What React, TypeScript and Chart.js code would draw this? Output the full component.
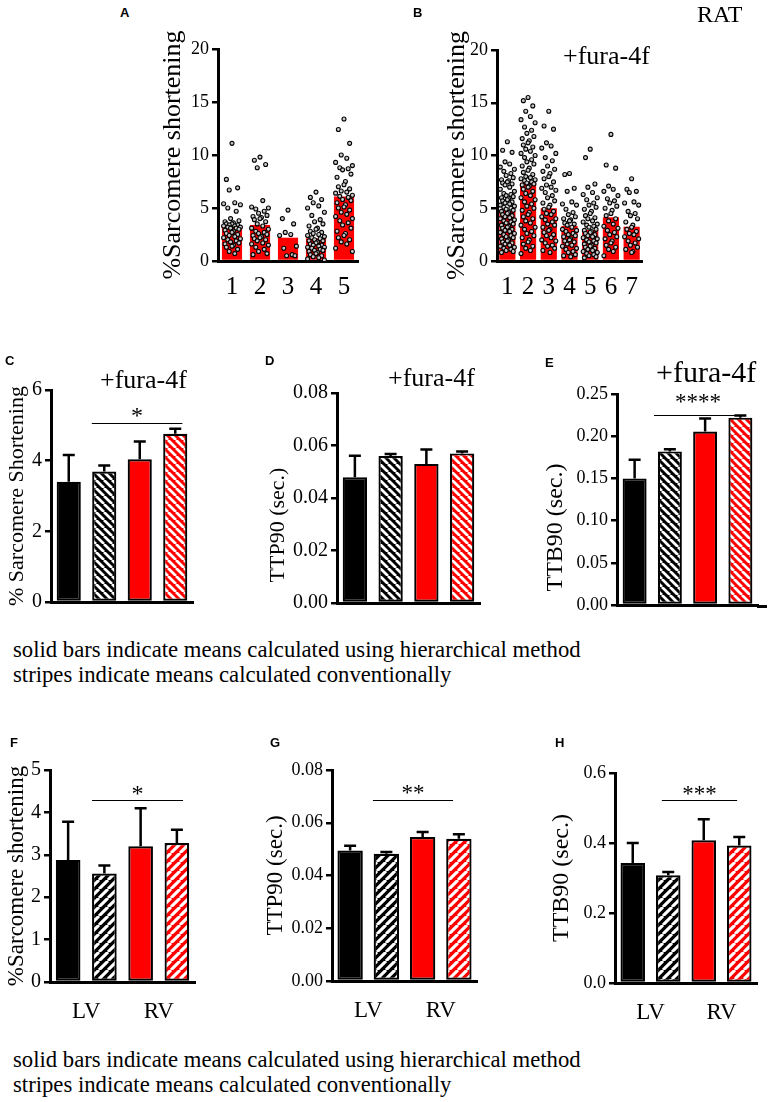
import React, { useEffect, useRef } from "react";
import { Chart, registerables } from "chart.js";
Chart.register(...registerables);

const SERIF = "'Liberation Serif', 'Times New Roman', Times, serif";
const SANS = "'Liberation Sans', Arial, Helvetica, sans-serif";
const RED = "#ff0000";

// ---------------- Panel A ----------------
const aLabels = ["1", "2", "3", "4", "5"];
const aMeans = [3.3, 3.4, 2.2, 2.14, 6.08];
const aCell1 = [11.1, 7.7, 6.9, 6.7, 5.5, 5.4, 5.3, 5.0, 4.7, 4.0, 3.8, 3.7, 3.6, 3.5, 3.5, 3.4, 3.4, 3.3, 3.3, 3.2, 3.2, 3.1, 3.1, 3.0, 2.9, 2.8, 2.7, 2.6, 2.5, 2.4, 2.3, 2.2, 2.1, 2.0, 1.9, 1.8, 1.7, 1.6, 1.5, 1.4, 1.3, 1.1, 0.9, 0.7];
const aCell2 = [9.8, 9.5, 9.1, 8.8, 5.7, 5.1, 5.0, 4.9, 4.7, 4.5, 4.3, 4.2, 4.1, 4.0, 3.9, 3.7, 3.5, 3.3, 3.1, 3.0, 2.8, 2.7, 2.6, 2.5, 2.4, 2.3, 2.2, 2.1, 2.0, 1.9, 1.7, 1.6, 1.5, 1.3, 1.1, 0.9, 0.7, 0.6];
const aCell3 = [4.8, 4.0, 3.5, 2.7, 2.5, 2.4, 1.4, 1.2, 0.6, 0.5, 0.5];
const aCell4 = [6.5, 6.0, 5.8, 5.5, 5.2, 5.0, 4.6, 4.3, 3.9, 3.7, 3.5, 3.3, 3.1, 3.0, 2.8, 2.7, 2.6, 2.5, 2.4, 2.3, 2.2, 2.1, 2.0, 1.9, 1.9, 1.8, 1.7, 1.6, 1.5, 1.5, 1.4, 1.3, 1.3, 1.2, 1.1, 1.0, 1.0, 0.9, 0.8, 0.7, 0.6, 0.5, 0.4, 0.3, 0.2, 0.1];
const aCell5 = [13.4, 12.4, 11.1, 10.0, 9.7, 9.3, 9.0, 8.8, 8.7, 8.6, 8.2, 7.9, 7.5, 7.2, 7.0, 6.8, 6.6, 6.5, 6.4, 6.2, 6.1, 6.0, 5.8, 5.7, 5.5, 5.3, 5.1, 5.0, 4.8, 4.6, 4.4, 4.2, 4.0, 3.8, 3.6, 3.4, 3.1, 2.8, 2.6, 2.4, 2.2, 2.0, 1.8, 1.6, 1.2, 0.9];

// ---------------- Panel B ----------------
const bLabels = ["1", "2", "3", "4", "5", "6", "7"];
const bMeans = [4.77, 7.42, 4.99, 3.32, 2.94, 4.14, 3.25];
const bCell1 = [11.3, 10.5, 10.3, 9.4, 9.2, 8.9, 8.7, 8.5, 8.3, 8.1, 7.9, 7.7, 7.6, 7.5, 7.4, 7.3, 7.2, 7.0, 6.8, 6.6, 6.4, 6.3, 6.2, 6.1, 6.0, 5.9, 5.8, 5.7, 5.6, 5.5, 5.4, 5.3, 5.2, 5.1, 5.0, 4.9, 4.8, 4.7, 4.6, 4.5, 4.4, 4.3, 4.2, 4.1, 4.0, 3.9, 3.8, 3.7, 3.6, 3.5, 3.4, 3.3, 3.2, 3.1, 3.0, 2.9, 2.8, 2.7, 2.6, 2.5, 2.4, 2.3, 2.2, 2.1, 2.0, 1.9, 1.8, 1.7, 1.6, 1.5, 1.4, 1.3, 1.2, 1.1, 1.0, 0.9, 0.8];
const bCell2 = [15.5, 15.2, 14.7, 14.2, 13.7, 13.4, 13.1, 12.7, 12.4, 12.1, 11.8, 11.6, 11.4, 11.2, 11.0, 10.8, 10.6, 10.4, 10.2, 10.0, 9.8, 9.6, 9.4, 9.2, 9.0, 8.8, 8.6, 8.4, 8.2, 8.0, 7.9, 7.8, 7.7, 7.6, 7.5, 7.4, 7.3, 7.2, 7.1, 7.0, 6.8, 6.6, 6.4, 6.2, 6.0, 5.8, 5.6, 5.4, 5.2, 5.0, 4.8, 4.6, 4.4, 4.2, 4.0, 3.8, 3.6, 3.4, 3.2, 3.0, 2.8, 2.6, 2.4, 2.2, 2.0, 1.8, 1.6, 1.4, 1.2, 1.0, 0.7];
const bCell3 = [14.2, 12.8, 12.5, 11.2, 10.9, 10.7, 10.2, 9.8, 9.5, 9.0, 8.7, 8.5, 8.3, 8.0, 7.8, 7.5, 7.2, 7.0, 6.9, 6.7, 6.5, 6.2, 6.0, 5.7, 5.5, 5.3, 5.1, 4.9, 4.7, 4.5, 4.4, 4.2, 4.0, 3.9, 3.7, 3.5, 3.4, 3.2, 3.0, 2.9, 2.7, 2.5, 2.4, 2.2, 2.0, 1.9, 1.7, 1.5, 1.4, 1.2, 1.0, 0.8];
const bCell4 = [8.3, 8.2, 6.9, 6.6, 5.6, 5.4, 5.3, 4.9, 4.6, 4.4, 4.2, 4.0, 3.9, 3.8, 3.6, 3.5, 3.4, 3.2, 3.0, 2.9, 2.8, 2.6, 2.5, 2.4, 2.3, 2.1, 2.0, 1.9, 1.8, 1.6, 1.5, 1.4, 1.2, 1.1, 0.9, 0.8, 0.6, 0.5, 0.4];
const bCell5 = [10.6, 9.8, 7.3, 7.0, 6.5, 6.3, 6.0, 5.8, 5.5, 5.3, 5.1, 4.9, 4.7, 4.5, 4.3, 4.1, 4.0, 3.8, 3.7, 3.5, 3.4, 3.3, 3.2, 3.0, 2.9, 2.8, 2.7, 2.6, 2.5, 2.4, 2.3, 2.2, 2.1, 2.0, 1.9, 1.8, 1.7, 1.6, 1.5, 1.4, 1.3, 1.2, 1.1, 1.0, 0.9, 0.8, 0.7, 0.6, 0.5, 0.4, 0.3];
const bCell6 = [12.0, 9.1, 8.8, 7.1, 6.8, 6.6, 6.2, 5.9, 5.7, 5.5, 5.2, 5.0, 4.8, 4.5, 4.3, 4.0, 3.8, 3.5, 3.3, 3.1, 2.9, 2.7, 2.5, 2.3, 2.1, 1.9, 1.7, 1.5, 1.3, 1.1, 0.9, 0.5];
const bCell7 = [7.8, 6.8, 6.6, 6.5, 5.6, 5.5, 5.3, 4.7, 4.5, 4.3, 4.0, 3.7, 3.4, 3.2, 3.0, 2.8, 2.6, 2.5, 2.3, 2.1, 1.9, 1.7, 1.5, 1.3, 1.1, 0.9, 0.8];

// ---------------- Panels C-H (hierarchical / conventional, LV / RV) ----------------
const groupLabels = ["LV hierarchical", "LV conventional", "RV hierarchical", "RV conventional"];
const cMeans = [3.40, 3.69, 4.04, 4.76];
const cErrTop = [4.16, 3.86, 4.54, 4.90];
const dMeans = [0.0479, 0.0560, 0.0530, 0.0570];
const dErrTop = [0.0561, 0.0568, 0.0585, 0.0577];
const eMeans = [0.150, 0.182, 0.2055, 0.222];
const eErrTop = [0.172, 0.1846, 0.221, 0.2245];
const fMeans = [2.88, 2.56, 3.20, 3.28];
const fErrTop = [3.78, 2.75, 4.10, 3.59];
const gMeans = [0.0495, 0.0482, 0.0546, 0.0539];
const gErrTop = [0.0513, 0.0489, 0.0565, 0.0556];
const hMeans = [0.343, 0.3076, 0.4076, 0.393];
const hErrTop = [0.400, 0.317, 0.468, 0.417];
const ventricleLabels = ["LV", "RV"];

const desc1 = "solid bars indicate means calculated using hierarchical method";
const desc2 = "stripes indicate means calculated conventionally";

const JITTER = [0, -0.67, 0.67, -0.33, 0.33, -1, 1, -0.5, 0.5, -0.17, 0.83, -0.83, 0.17];

function swarm(groups: number[][], spread: number) {
  const pts: { x: number; y: number }[] = [];
  groups.forEach((vals, g) =>
    vals.forEach((v, i) => pts.push({ x: g + JITTER[i % JITTER.length] * spread, y: v }))
  );
  return pts;
}

function stripes(ctx: CanvasRenderingContext2D, bg: string, dir: string, tile: number) {
  const c = document.createElement("canvas");
  c.width = tile;
  c.height = tile;
  const g = c.getContext("2d")!;
  g.fillStyle = bg;
  g.fillRect(0, 0, tile, tile);
  g.strokeStyle = "#fff";
  g.lineWidth = tile * 0.34;
  g.beginPath();
  for (let k = -1; k <= 1; k++) {
    if (dir === "\\") {
      g.moveTo(k * tile, 0);
      g.lineTo(k * tile + tile, tile);
    } else {
      g.moveTo(k * tile, tile);
      g.lineTo(k * tile + tile, 0);
    }
  }
  g.stroke();
  return ctx.createPattern(c, "repeat");
}

const decor = {
  id: "decor",
  afterDatasetsDraw(chart: any, _a: any, o: any) {
    const { ctx, chartArea } = chart;
    const xs = chart.scales.x;
    const ys = chart.scales.y;
    ctx.save();
    if (o.errors && o.means) {
      ctx.strokeStyle = "#000";
      ctx.lineWidth = 2.5;
      for (let i = 0; i < o.errors.length; i++) {
        const x = xs.getPixelForValue(i);
        const yb = ys.getPixelForValue(o.means[i]);
        const yt = ys.getPixelForValue(o.errors[i]);
        ctx.beginPath();
        ctx.moveTo(x, yb);
        ctx.lineTo(x, yt);
        ctx.moveTo(x - o.cap, yt);
        ctx.lineTo(x + o.cap, yt);
        ctx.stroke();
      }
    }
    if (o.sig) {
      const x1 = xs.getPixelForValue(o.sig.from);
      const x2 = xs.getPixelForValue(o.sig.to);
      const yy = Math.round(ys.getPixelForValue(o.sig.y)) + 0.5;
      ctx.strokeStyle = "#000";
      ctx.lineWidth = 1;
      ctx.beginPath();
      ctx.moveTo(x1, yy);
      ctx.lineTo(x2, yy);
      ctx.stroke();
      ctx.fillStyle = "#000";
      ctx.font = `${o.sig.size}px ${SERIF}`;
      ctx.textAlign = "center";
      ctx.textBaseline = "alphabetic";
      ctx.fillText(o.sig.stars, (x1 + x2) / 2, yy - o.sig.dy + 0.47 * o.sig.size);
    }
    if (o.groups) {
      ctx.fillStyle = "#000";
      ctx.font = `${o.groupSize}px ${SERIF}`;
      ctx.textAlign = "center";
      ctx.textBaseline = "alphabetic";
      o.groups.forEach((label: string, gi: number) => {
        const xa = xs.getPixelForValue(gi * 2);
        const xb = xs.getPixelForValue(gi * 2 + 1);
        ctx.fillText(label, (xa + xb) / 2, chartArea.bottom + o.groupDy);
      });
    }
    if (o.xExtend) {
      ctx.strokeStyle = "#000";
      ctx.lineWidth = 3;
      ctx.beginPath();
      ctx.moveTo(chartArea.right - 1, chartArea.bottom + 1.5);
      ctx.lineTo(chartArea.right + o.xExtend, chartArea.bottom + 1.5);
      ctx.stroke();
    }
    if (o.yTitle) {
      ctx.fillStyle = "#000";
      ctx.font = `${o.yTitle.size}px ${SERIF}`;
      ctx.textAlign = "center";
      ctx.textBaseline = "middle";
      ctx.translate(o.yTitle.x, (chartArea.top + chartArea.bottom) / 2 + (o.yTitle.dy || 0));
      ctx.rotate(-Math.PI / 2);
      ctx.fillText(o.yTitle.text, 0, 0);
    }
    ctx.restore();
  },
};

function scales(o: any) {
  const s: any = {
    x: {
      offset: true,
      grid: { display: false },
      border: { display: true, color: "#000", width: 3 },
      ticks: o.xTicks
        ? { display: true, color: "#000", font: { family: SERIF, size: 25 }, padding: 3, maxRotation: 0, autoSkip: false }
        : { display: false },
      afterFit: (sc: any) => {
        sc.height = o.xH;
      },
    },
    y: {
      min: o.min,
      max: o.max,
      ticks: {
        stepSize: o.step,
        color: "#000",
        font: { family: SERIF, size: o.tickSize || 18 },
        padding: 3,
        callback: (v: number) => (o.dec ? Number(v).toFixed(o.dec) : String(Math.round(v))),
      },
      grid: {
        display: true,
        drawOnChartArea: false,
        drawTicks: true,
        tickLength: 6,
        tickWidth: 2.5,
        tickColor: "#000",
        color: "#000",
        lineWidth: 2.5,
      },
      border: { display: true, color: "#000", width: 3 },
      afterFit: (sc: any) => {
        sc.width = o.yW;
      },
    },
  };
  if (o.n) {
    s.xs = { type: "linear", display: false, min: -0.5, max: o.n - 0.5, offset: false };
  }
  return s;
}

function scatterConfig(p: any) {
  return (_ctx: CanvasRenderingContext2D) => ({
    type: "bar",
    data: {
      labels: p.labels,
      datasets: [
        {
          type: "scatter",
          data: swarm(p.cells, p.spread),
          xAxisID: "xs",
          yAxisID: "y",
          pointRadius: 2,
          pointBorderWidth: 1.1,
          pointBorderColor: "#000",
          pointBackgroundColor: "#c8c8c8",
          order: 0,
        },
        {
          type: "bar",
          data: p.means,
          backgroundColor: RED,
          borderWidth: 0,
          grouped: false,
          barPercentage: p.barPct,
          categoryPercentage: 1,
          order: 1,
        },
      ],
    },
    options: {
      responsive: false,
      animation: false,
      events: [],
      layout: { padding: { top: p.padTop, right: p.padRight, left: 0, bottom: 0 } },
      plugins: { legend: { display: false }, tooltip: { enabled: false }, decor: { yTitle: p.yTitle } },
      scales: scales({ ...p, xTicks: true, n: p.labels.length }),
    },
    plugins: [decor],
  });
}

function barConfig(p: any) {
  return (ctx: CanvasRenderingContext2D) => ({
    type: "bar",
    data: {
      labels: groupLabels,
      datasets: [
        {
          data: p.means,
          backgroundColor: ["#000", stripes(ctx, "#000", p.dir, p.tile), RED, stripes(ctx, RED, p.dir, p.tile)],
          borderColor: "#000",
          borderWidth: 2.2,
          borderSkipped: false,
          barPercentage: p.barPct,
          categoryPercentage: 1,
        },
      ],
    },
    options: {
      responsive: false,
      animation: false,
      events: [],
      layout: { padding: { top: p.padTop, right: p.padRight, left: 0, bottom: 0 } },
      plugins: {
        legend: { display: false },
        tooltip: { enabled: false },
        decor: {
          errors: p.err,
          means: p.means,
          cap: 6,
          sig: p.sig,
          yTitle: p.yTitle,
          groups: p.groups,
          groupSize: 23,
          groupDy: 36,
          xExtend: p.xExtend,
        },
      },
      scales: scales({ ...p, xTicks: false }),
    },
    plugins: [decor],
  });
}

const panels = [
  {
    key: "A", left: 140, top: 20, w: 230, h: 280,
    make: scatterConfig({
      labels: aLabels, means: aMeans, cells: [aCell1, aCell2, aCell3, aCell4, aCell5], spread: 0.3, barPct: 0.72,
      yW: 78, padTop: 29, xH: 39, padRight: 12, min: 0, max: 20, step: 5,
      yTitle: { text: "%Sarcomere shortening", size: 26, x: 33 },
    }),
  },
  {
    key: "B", left: 420, top: 20, w: 240, h: 280,
    make: scatterConfig({
      labels: bLabels, means: bMeans, cells: [bCell1, bCell2, bCell3, bCell4, bCell5, bCell6, bCell7], spread: 0.34, barPct: 0.78,
      yW: 77, padTop: 30, xH: 39, padRight: 18, min: 0, max: 20, step: 5,
      yTitle: { text: "%Sarcomere shortening", size: 26, x: 37 },
    }),
  },
  {
    key: "C", left: 0, top: 360, w: 210, h: 265,
    make: barConfig({
      means: cMeans, err: cErrTop, dir: "\\", tile: 8, barPct: 0.68, tickSize: 20,
      yW: 51, padTop: 30, xH: 23, padRight: 17, min: 0, max: 6, step: 2,
      sig: { from: 0.65, to: 3.2, y: 5.07, stars: "*", size: 24, dy: 12 },
      yTitle: { text: "% Sarcomere Shortening", size: 22, x: 17 },
    }),
  },
  {
    key: "D", left: 260, top: 360, w: 240, h: 265,
    make: barConfig({
      means: dMeans, err: dErrTop, dir: "\\", tile: 8, barPct: 0.68, tickSize: 20,
      yW: 77, padTop: 33, xH: 22, padRight: 20, min: 0, max: 0.08, step: 0.02, dec: 2,
      yTitle: { text: "TTP90 (sec.)", size: 22, x: 18, dy: 27 },
    }),
  },
  {
    key: "E", left: 510, top: 355, w: 260, h: 270,
    make: barConfig({
      means: eMeans, err: eErrTop, dir: "\\", tile: 8, barPct: 0.68, tickSize: 18,
      yW: 107, padTop: 39, xH: 20, padRight: 12, min: 0, max: 0.25, step: 0.05, dec: 2, xExtend: 9,
      sig: { from: 0.55, to: 3.05, y: 0.2255, stars: "****", size: 23, dy: 17 },
      yTitle: { text: "TTB90 (sec.)", size: 24, x: 46, dy: 28 },
    }),
  },
  {
    key: "F", left: 0, top: 745, w: 210, h: 285,
    make: barConfig({
      means: fMeans, err: fErrTop, dir: "/", tile: 9, barPct: 0.68, groups: ventricleLabels, tickSize: 20,
      yW: 50, padTop: 25, xH: 48, padRight: 15, min: 0, max: 5, step: 1,
      sig: { from: 0.66, to: 3.17, y: 4.29, stars: "*", size: 24, dy: 11 },
      yTitle: { text: "%Sarcomere shortening", size: 23, x: 17 },
    }),
  },
  {
    key: "G", left: 260, top: 745, w: 235, h: 285,
    make: barConfig({
      means: gMeans, err: gErrTop, dir: "/", tile: 9, barPct: 0.7, groups: ventricleLabels, tickSize: 18,
      yW: 72, padTop: 25, xH: 49, padRight: 18, min: 0, max: 0.08, step: 0.02, dec: 2,
      sig: { from: 0.63, to: 2.84, y: 0.0686, stars: "**", size: 23, dy: 11 },
      yTitle: { text: "TTP90 (sec.)", size: 23, x: 16 },
    }),
  },
  {
    key: "H", left: 510, top: 745, w: 260, h: 285,
    make: barConfig({
      means: hMeans, err: hErrTop, dir: "/", tile: 9, barPct: 0.69, groups: ventricleLabels, tickSize: 18,
      yW: 105, padTop: 28, xH: 47, padRight: 13, min: 0, max: 0.6, step: 0.2, dec: 1,
      sig: { from: 0.82, to: 2.94, y: 0.523, stars: "***", size: 23, dy: 10 },
      yTitle: { text: "TTB90 (sec.)", size: 24, x: 52 },
    }),
  },
];

const overlays = [
  { t: "A", x: 120, y: 6, size: 13, font: SANS, bold: true },
  { t: "B", x: 413, y: 6, size: 13, font: SANS, bold: true },
  { t: "RAT", x: 697, y: 2, size: 24, font: SERIF },
  { t: "+fura-4f", x: 563, y: 43, size: 26, font: SERIF },
  { t: "C", x: 5, y: 354, size: 13, font: SANS, bold: true },
  { t: "+fura-4f", x: 100, y: 367, size: 26, font: SERIF },
  { t: "D", x: 265, y: 354, size: 13, font: SANS, bold: true },
  { t: "+fura-4f", x: 388, y: 365, size: 26, font: SERIF },
  { t: "E", x: 545, y: 356, size: 13, font: SANS, bold: true },
  { t: "+fura-4f", x: 656, y: 357, size: 30, font: SERIF },
  { t: desc1, x: 13, y: 639, size: 22.7, font: SERIF },
  { t: desc2, x: 13, y: 664, size: 22.7, font: SERIF },
  { t: "F", x: 10, y: 736, size: 13, font: SANS, bold: true },
  { t: "G", x: 270, y: 736, size: 13, font: SANS, bold: true },
  { t: "H", x: 555, y: 736, size: 13, font: SANS, bold: true },
  { t: desc1, x: 13, y: 1049, size: 22.7, font: SERIF },
  { t: desc2, x: 13, y: 1074, size: 22.7, font: SERIF },
];

function ChartBox({ spec }: { spec: any }) {
  const ref = useRef<HTMLCanvasElement>(null);
  useEffect(() => {
    const canvas = ref.current!;
    const ctx = canvas.getContext("2d")!;
    const chart = new Chart(canvas, spec.make(ctx) as any);
    return () => chart.destroy();
  }, []);
  return (
    <canvas
      ref={ref}
      width={spec.w}
      height={spec.h}
      style={{ position: "absolute", left: spec.left, top: spec.top, width: spec.w, height: spec.h }}
    />
  );
}

export default function App() {
  return (
    <div style={{ position: "absolute", left: 0, top: 0, width: 770, height: 1102, background: "#fff", overflow: "hidden" }}>
      {panels.map((p) => (
        <ChartBox key={p.key} spec={p} />
      ))}
      {overlays.map((o, i) => (
        <div
          key={i}
          style={{
            position: "absolute",
            left: o.x,
            top: o.y,
            fontSize: o.size,
            fontFamily: o.font,
            fontWeight: o.bold ? "bold" : "normal",
            lineHeight: 1,
            whiteSpace: "nowrap",
            color: "#000",
          }}
        >
          {o.t}
        </div>
      ))}
    </div>
  );
}
